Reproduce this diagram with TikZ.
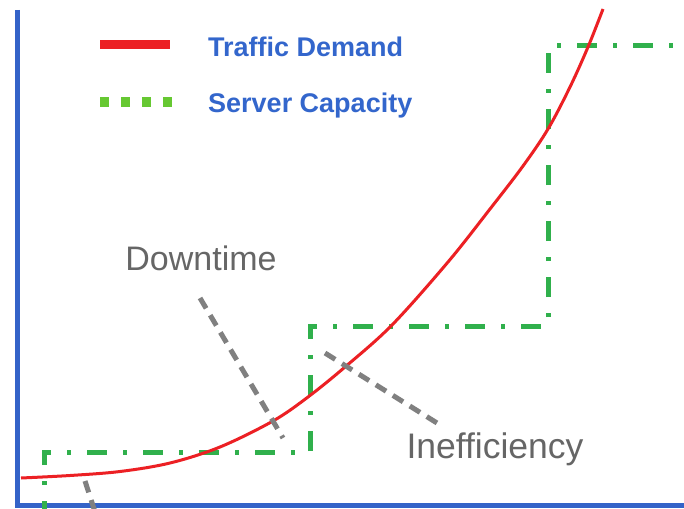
\documentclass[tikz,border=0pt]{standalone}
\usepackage{fontspec}
\setmainfont{Liberation Sans}
\begin{document}
\begin{tikzpicture}[x=1pt,y=-1pt,
  axis/.style={draw=axisblue,line width=5pt},
  demand/.style={draw=demandred,line width=3pt},
  capacity/.style={draw=capgreen,line width=5pt,
    dash pattern=on 20pt off 16pt on 4pt off 16pt},
  pointer/.style={draw=pointergray,line width=5pt,
    dash pattern=on 12pt off 8pt},
  legendtext/.style={font=\fontsize{27}{30}\selectfont\bfseries,
    text=legendblue,anchor=base west,inner sep=0pt},
  callout/.style={text=labelgray,anchor=base,inner sep=0pt}]
\definecolor{axisblue}{HTML}{3463C8}
\definecolor{legendblue}{HTML}{3366CC}
\definecolor{demandred}{HTML}{EC2024}
\definecolor{capgreen}{HTML}{30B04C}
\definecolor{legendgreen}{HTML}{66C832}
\definecolor{pointergray}{HTML}{808080}
\definecolor{labelgray}{HTML}{666666}
\useasboundingbox (0,0) rectangle (684,508);
\clip (0,0) rectangle (684,508);
\fill[white] (0,0) rectangle (684,508);

% axes
\coordinate (ytop) at (17.5,10);
\coordinate (origin) at (17.5,505);
\coordinate (xend) at (690,505);
\draw[axis] (ytop) -- (origin) -- (xend);

% server capacity steps
\coordinate (c0) at (44,515);
\coordinate (c1) at (44,452);
\coordinate (c2) at (310,452);
\coordinate (c3) at (310,326);
\coordinate (c4) at (548,326);
\coordinate (c5) at (548,46);
\coordinate (c6) at (690,46);
\draw[capacity,dash phase=6pt] (c0) -- (c1) -- (c2) -- (c3) -- (c4) -- (c5) -- (c6);

% traffic demand curve
\draw[demand] plot[smooth,tension=0.55] coordinates {
  (21,478) (70,475.5) (120,471.5) (170,463) (220,447) (273,421)
  (308,397) (345,367) (392,325) (448,262) (490,209) (523,166)
  (548,129) (570,87) (588,47) (603,9)};

% pointer lines
\coordinate (dt1) at (200,298);
\coordinate (dt2) at (283,438);
\coordinate (in1) at (325,353);
\coordinate (in2) at (437,423);
\coordinate (lo1) at (85,481);
\coordinate (lo2) at (96,515);
\draw[pointer] (dt1) -- (dt2);
\draw[pointer] (in1) -- (in2);
\draw[pointer] (lo1) -- (lo2);

% callout labels
\node[callout,font=\fontsize{34}{38}\selectfont] (downtime) at (201,270) {Downtime};
\node[callout,font=\fontsize{35.5}{40}\selectfont] (ineff) at (495,458) {Inefficiency};

% legend
\coordinate (lr1) at (100,45);
\coordinate (lr2) at (170,45);
\draw[demandred,line width=9pt] (lr1) -- (lr2);
\coordinate (lg1) at (100,102);
\coordinate (lg2) at (172,102);
\draw[legendgreen,line width=9pt,dash pattern=on 9pt off 12pt] (lg1) -- (lg2);
\node[legendtext] (ltraffic) at (208,57) {Traffic Demand};
\node[legendtext] (lserver) at (208,112) {Server Capacity};
\end{tikzpicture}
\end{document}
